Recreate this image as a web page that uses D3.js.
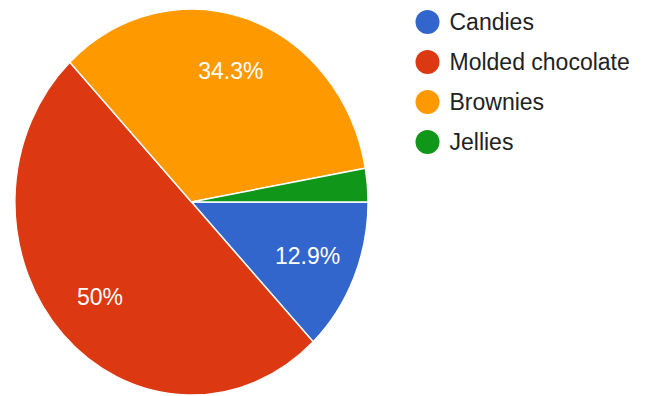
<!DOCTYPE html>
<html>
<head>
<meta charset="utf-8">
<script src="https://cdn.jsdelivr.net/npm/d3@7"></script>
<style>
  html, body { margin: 0; padding: 0; background: #fff; }
  svg { display: block; }
  text { font-family: Arial, "Liberation Sans", sans-serif; }
</style>
</head>
<body>
<svg id="chart" width="649" height="396"></svg>
<script>
const categories = ["Candies", "Molded chocolate", "Brownies", "Jellies"];
const values = [12.9, 50, 34.3, 2.8];
const sliceLabels = ["12.9%", "50%", "34.3%", ""];
const colors = ["#3366cc", "#dc3912", "#ff9900", "#109618"];

const svg = d3.select("#chart");
const cx = 191.5, cy = 202, R = 193, sx = 0.915;

const color = d3.scaleOrdinal().domain(categories).range(colors);

const pie = d3.pie()
  .sort(null)
  .value(d => d.value)
  .startAngle(Math.PI / 2)
  .endAngle(Math.PI / 2 + 2 * Math.PI);

const data = categories.map((c, i) => ({ name: c, value: values[i], label: sliceLabels[i] }));
const arcs = pie(data);

const arc = d3.arc().innerRadius(0).outerRadius(R);
const labelArc = d3.arc().innerRadius(R * 0.715).outerRadius(R * 0.715);

const g = svg.append("g")
  .attr("transform", `translate(${cx},${cy}) scale(${sx},1)`);

g.selectAll("path")
  .data(arcs)
  .join("path")
  .attr("d", arc)
  .attr("fill", d => color(d.data.name))
  .attr("stroke", "#fff")
  .attr("stroke-width", 1.5)
  .attr("vector-effect", "non-scaling-stroke");

svg.append("g")
  .attr("transform", `translate(${cx},${cy})`)
  .selectAll("text")
  .data(arcs.filter(d => d.data.label))
  .join("text")
  .attr("x", d => labelArc.centroid(d)[0] * sx)
  .attr("y", d => labelArc.centroid(d)[1])
  .attr("text-anchor", "middle")
  .attr("dominant-baseline", "central")
  .attr("fill", "#fff")
  .attr("font-size", 23)
  .text(d => d.data.label);

// Legend
const legend = svg.append("g").attr("transform", "translate(427.5,22)");
const rows = legend.selectAll("g")
  .data(categories)
  .join("g")
  .attr("transform", (d, i) => `translate(0,${i * 40})`);

rows.append("circle")
  .attr("r", 12)
  .attr("fill", d => color(d));

rows.append("text")
  .attr("x", 22)
  .attr("y", 0)
  .attr("dominant-baseline", "central")
  .attr("font-size", 23)
  .attr("fill", "#222")
  .text(d => d);
</script>
</body>
</html>
